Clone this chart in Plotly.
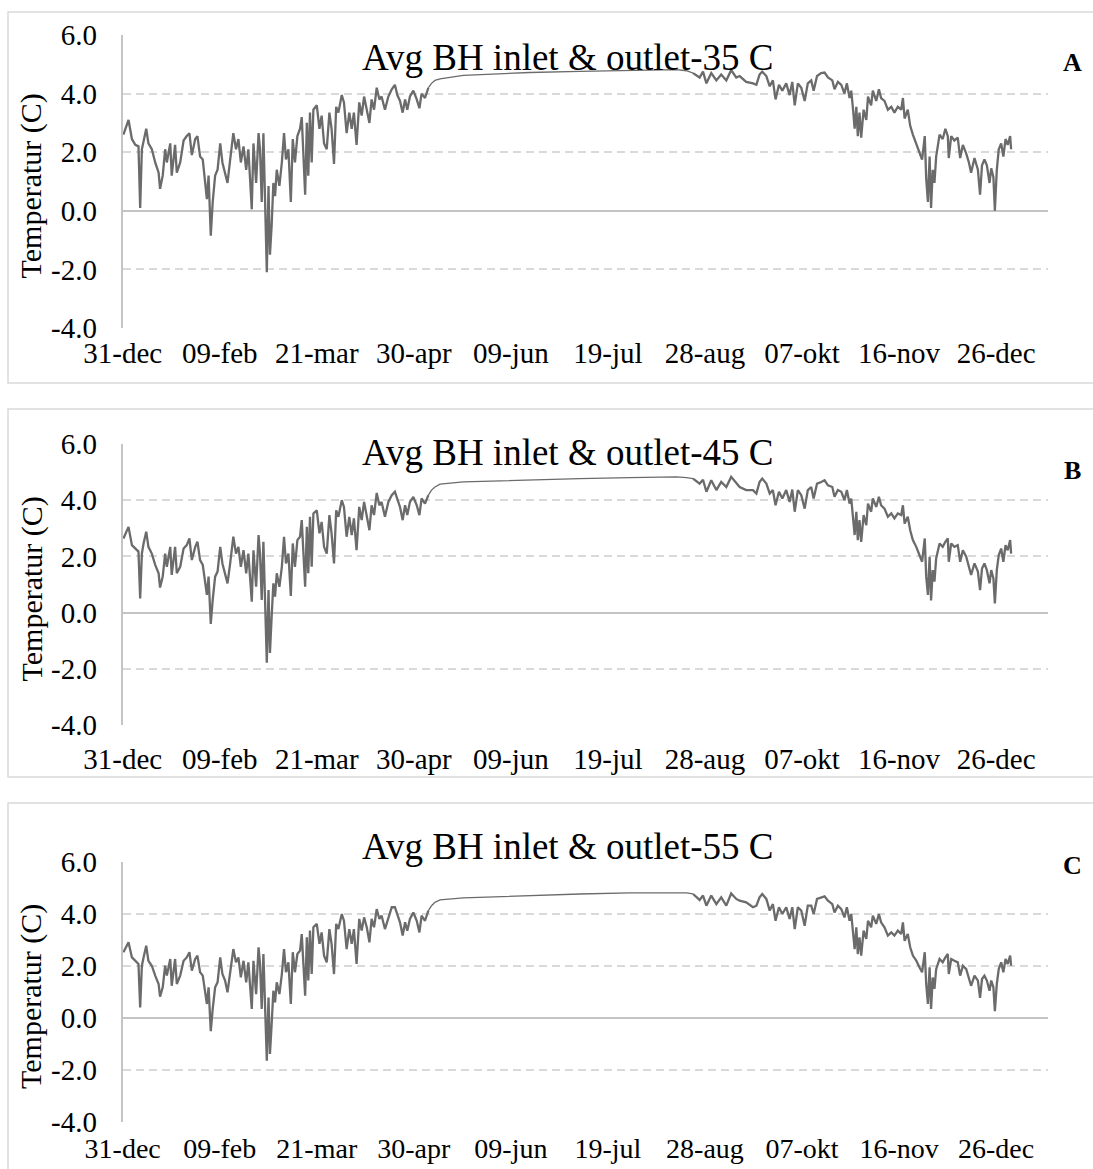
import plotly.graph_objects as go

# ---------------- data ----------------
# day offset from 31-dec
days = [
    0.3, 2.4, 3.8, 5.2, 6.5, 7.2, 7.9, 8.6, 9.7, 10.6,
    12.0, 13.4, 14.8, 15.4, 16.5, 17.5, 18.2, 19.6, 20.2, 21.6,
    22.3, 23.7, 25.1, 26.4, 27.5, 28.5, 29.9, 30.8, 31.9, 33.0,
    34.0, 34.7, 35.4, 36.3, 37.1, 38.1, 39.1, 40.2, 41.1, 42.2,
    43.2, 44.3, 45.6, 46.7, 47.7, 48.7, 49.8, 50.9, 51.8, 53.2,
    53.9, 55.0, 56.0, 56.6, 57.3, 58.0, 58.7, 59.4, 60.1, 60.7,
    61.4, 62.1, 62.8, 63.5, 64.6, 65.6, 66.5, 67.3, 68.3, 69.3,
    70.1, 71.0, 72.0, 73.1, 73.8, 74.5, 75.2, 75.9, 76.5, 77.2,
    77.9, 78.6, 80.0, 81.1, 82.0, 83.0, 84.1, 85.2, 86.1, 87.1,
    88.0, 88.9, 90.3, 91.2, 92.3, 93.4, 94.4, 95.3, 96.4, 97.5,
    98.5, 99.5, 100.6, 101.7, 102.6, 103.6, 104.7, 105.8, 106.7, 108.1,
    109.5, 110.9, 112.2, 113.2, 114.3, 115.4, 116.4, 117.3, 118.4, 119.8,
    121.2, 122.3, 123.2, 124.6, 126.0, 127.3, 128.7, 130.8,
    140.4, 155.0, 167.8, 188.4, 209.0, 228.2, 232.4,
    235.1, 237.8, 239.2, 240.6, 242.6, 244.7, 246.7, 248.8, 250.8, 252.9,
    254.3, 257.0, 259.8, 261.2, 262.5, 263.6, 265.3, 266.7, 268.0, 269.1,
    270.5, 271.9, 273.5, 274.9, 276.0, 277.0, 278.3, 279.7, 281.1, 282.4,
    283.8, 284.8, 286.2, 287.9, 289.3, 290.7, 292.5, 293.4, 294.8, 296.2,
    297.5, 298.5, 299.6, 300.3, 301.0, 301.7, 302.4, 303.0, 303.7, 304.4,
    305.4, 306.5, 307.2, 308.5, 309.2, 310.6, 311.7, 312.6, 314.0, 315.4,
    316.8, 318.1, 319.5, 320.9, 321.6, 322.3, 323.6, 324.6, 325.7, 327.1,
    328.4, 329.5, 330.6, 331.2, 331.9, 332.6, 333.2, 333.9, 334.6, 335.3,
    336.7, 338.0, 339.1, 340.1, 340.5, 341.5, 342.8, 344.2, 345.2, 346.3,
    347.7, 348.8, 349.7, 351.1, 352.5, 353.4, 354.2, 355.2, 356.2, 357.3,
    358.0, 358.9, 359.5, 360.3, 361.1, 362.1, 363.0, 363.9, 364.8, 365.8,
    366.2,
]

temp_35 = [
    2.6, 3.1, 2.45, 2.25, 2.2, 0.1, 2.1, 2.4, 2.8, 2.3,
    2.1, 1.65, 1.3, 0.75, 1.2, 2.1, 1.65, 2.3, 1.2, 2.25,
    1.3, 1.65, 2.4, 2.55, 2.65, 1.9, 2.45, 2.55, 1.85, 1.75,
    0.95, 0.4, 1.2, -0.85, 0.3, 1.2, 1.4, 2.3, 1.65, 1.3,
    0.95, 1.75, 2.65, 2.1, 2.45, 1.65, 2.2, 1.4, 2.1, 0.05,
    2.3, 0.95, 2.65, 2.1, 0.3, 2.65, 0.5, -2.1, 0.85, -1.5,
    -0.5, 0.95, 0.5, 1.4, 0.85, 1.65, 2.65, 1.75, 2.1, 0.3,
    2.45, 1.65, 2.55, 2.8, 3.2, 1.85, 0.55, 3.0, 1.2, 3.35,
    1.65, 3.45, 3.6, 2.8, 3.25, 2.3, 2.1, 3.35, 2.8, 1.6,
    3.55, 3.35, 3.95, 3.7, 2.65, 3.35, 2.8, 3.35, 2.25, 3.7,
    3.25, 3.9, 3.45, 3.0, 3.8, 3.45, 4.2, 3.8, 3.9, 3.45,
    3.9, 4.15, 4.3, 3.95, 3.75, 3.35, 3.8, 3.45, 3.9, 4.1,
    3.8, 3.5, 4.0, 3.85, 4.2, 4.35, 4.45, 4.5,
    4.62, 4.68, 4.72, 4.76, 4.8, 4.82, 4.78,
    4.7, 4.55, 4.75, 4.35, 4.7, 4.45, 4.65, 4.45, 4.8, 4.55,
    4.6, 4.4, 4.35, 4.3, 4.65, 4.75, 4.6, 4.25, 4.45, 3.8,
    4.3, 4.1, 4.35, 3.95, 4.4, 3.6, 4.35, 4.2, 3.75, 4.35,
    4.45, 4.1, 4.6, 4.7, 4.72, 4.55, 4.45, 4.15, 4.4, 4.3,
    4.0, 4.35, 3.85, 4.1, 3.5, 2.8, 3.55, 2.55, 3.35, 2.5,
    3.45, 3.1, 3.9, 3.6, 4.1, 3.75, 4.15, 3.85, 3.75, 3.45,
    3.55, 3.35, 3.55, 3.45, 3.85, 3.15, 3.45, 2.9, 2.6, 2.3,
    1.95, 1.75, 2.55, 1.1, 0.3, 1.85, 0.1, 1.4, 0.95, 1.85,
    2.6, 2.45, 2.8, 2.55, 1.8, 2.55, 2.4, 2.5, 1.8, 2.25,
    1.95, 1.65, 1.3, 1.8, 1.4, 0.55, 1.55, 1.75, 1.55, 0.95,
    1.45, 1.15, 0.0, 1.4, 2.1, 2.3, 1.85, 2.45, 2.25, 2.55,
    2.1,
]

temp_45 = [
    2.64, 3.05, 2.4, 2.28, 2.17, 0.5, 2.1, 2.46, 2.88, 2.34,
    2.1, 1.7, 1.4, 0.89, 1.28, 2.1, 1.63, 2.34, 1.34, 2.34,
    1.4, 1.63, 2.28, 2.4, 2.64, 1.87, 2.34, 2.52, 1.87, 1.7,
    1.04, 0.63, 1.28, -0.4, 0.45, 1.28, 1.46, 2.34, 1.75, 1.4,
    1.04, 1.75, 2.7, 2.1, 2.34, 1.63, 2.22, 1.4, 2.1, 0.39,
    2.22, 0.92, 2.76, 2.1, 0.45, 2.52, 0.57, -1.78, 0.8, -1.44,
    -0.14, 1.04, 0.57, 1.4, 0.92, 1.63, 2.7, 1.75, 2.1, 0.59,
    2.46, 1.63, 2.58, 2.7, 3.29, 1.87, 0.92, 3.05, 1.4, 3.41,
    1.63, 3.53, 3.64, 2.82, 3.23, 2.34, 2.1, 3.47, 2.82, 1.75,
    3.64, 3.41, 4.0, 3.76, 2.7, 3.41, 2.76, 3.35, 2.22, 3.76,
    3.29, 3.94, 3.47, 2.93, 3.82, 3.47, 4.26, 3.82, 3.94, 3.41,
    3.94, 4.18, 4.3, 4.0, 3.76, 3.29, 3.82, 3.47, 3.94, 4.12,
    3.82, 3.47, 4.06, 3.88, 4.18, 4.36, 4.47, 4.57,
    4.65, 4.69, 4.73, 4.77, 4.8, 4.83, 4.8,
    4.77, 4.59, 4.73, 4.3, 4.71, 4.36, 4.65, 4.47, 4.83, 4.59,
    4.47, 4.36, 4.36, 4.24, 4.65, 4.77, 4.59, 4.24, 4.36, 3.82,
    4.3, 4.06, 4.36, 3.94, 4.38, 3.59, 4.36, 4.18, 3.7, 4.36,
    4.47, 4.06, 4.59, 4.65, 4.71, 4.53, 4.47, 4.12, 4.36, 4.3,
    4.0, 4.36, 3.88, 4.06, 3.53, 2.76, 3.59, 2.58, 3.29, 2.52,
    3.47, 3.11, 3.88, 3.59, 4.06, 3.76, 4.12, 3.82, 3.7, 3.41,
    3.53, 3.35, 3.53, 3.47, 3.82, 3.17, 3.41, 2.93, 2.58, 2.34,
    2.05, 1.81, 2.64, 1.28, 0.63, 1.99, 0.43, 1.51, 1.1, 1.93,
    2.46, 2.34, 2.52, 2.64, 1.81, 2.46, 2.34, 2.4, 1.81, 2.22,
    1.99, 1.63, 1.34, 1.75, 1.46, 0.8, 1.57, 1.75, 1.51, 1.04,
    1.51, 1.22, 0.33, 1.51, 2.05, 2.28, 1.81, 2.4, 2.22, 2.58,
    2.1,
]

temp_55 = [
    2.53, 2.91, 2.33, 2.2, 2.08, 0.41, 2.01, 2.33, 2.78, 2.2,
    2.01, 1.63, 1.31, 0.82, 1.18, 2.01, 1.63, 2.27, 1.24, 2.27,
    1.31, 1.63, 2.2, 2.33, 2.53, 1.82, 2.27, 2.4, 1.76, 1.63,
    0.92, 0.54, 1.18, -0.51, 0.35, 1.18, 1.37, 2.33, 1.69, 1.44,
    0.99, 1.76, 2.65, 2.14, 2.33, 1.56, 2.2, 1.37, 2.14, 0.35,
    2.2, 0.92, 2.72, 2.08, 0.35, 2.46, 0.54, -1.64, 0.79, -1.38,
    -0.23, 1.05, 0.6, 1.37, 0.92, 1.69, 2.65, 1.76, 2.14, 0.54,
    2.53, 1.76, 2.46, 2.59, 3.23, 1.88, 0.86, 3.1, 1.44, 3.36,
    1.69, 3.49, 3.62, 2.85, 3.29, 2.4, 2.14, 3.42, 2.85, 1.69,
    3.62, 3.42, 4.0, 3.74, 2.65, 3.42, 2.85, 3.42, 2.08, 3.81,
    3.36, 3.87, 3.49, 2.91, 3.81, 3.49, 4.19, 3.81, 3.94, 3.42,
    3.87, 4.26, 4.26, 3.94, 3.68, 3.17, 3.68, 3.36, 3.81, 4.06,
    3.74, 3.29, 3.94, 3.74, 4.13, 4.32, 4.45, 4.54,
    4.62, 4.67, 4.71, 4.77, 4.81, 4.83, 4.81,
    4.77, 4.54, 4.71, 4.32, 4.71, 4.38, 4.64, 4.32, 4.79, 4.58,
    4.51, 4.45, 4.26, 4.32, 4.64, 4.77, 4.58, 4.13, 4.38, 3.74,
    4.26, 4.0, 4.26, 3.81, 4.26, 3.42, 4.26, 4.13, 3.55, 4.32,
    4.32, 4.0, 4.58, 4.64, 4.68, 4.51, 4.38, 4.06, 4.32, 4.19,
    3.87, 4.26, 3.74, 4.0, 3.36, 2.65, 3.49, 2.46, 3.1, 2.4,
    3.36, 3.04, 3.74, 3.49, 3.94, 3.62, 4.0, 3.68, 3.49, 3.17,
    3.29, 3.17, 3.36, 3.23, 3.68, 2.97, 3.23, 2.72, 2.4, 2.21,
    1.95, 1.76, 2.53, 1.31, 0.54, 1.95, 0.35, 1.56, 1.12, 1.88,
    2.27, 2.14, 2.33, 2.46, 1.69, 2.27, 2.2, 2.14, 1.63, 2.01,
    1.88, 1.5, 1.24, 1.63, 1.44, 0.77, 1.5, 1.63, 1.44, 1.05,
    1.44, 1.18, 0.26, 1.31, 1.88, 2.14, 1.76, 2.27, 2.08, 2.4,
    2.01,
]

tick_days = [0, 40, 80, 120, 160, 200, 240, 280, 320, 360]
tick_labels = ["31-dec", "09-feb", "21-mar", "30-apr", "09-jun",
               "19-jul", "28-aug", "07-okt", "16-nov", "26-dec"]
y_ticks = [-4, -2, 0, 2, 4, 6]
y_tick_labels = ["-4.0", "-2.0", "0.0", "2.0", "4.0", "6.0"]
titles = ["Avg BH inlet & outlet-35 C", "Avg BH inlet & outlet-45 C",
          "Avg BH inlet & outlet-55 C"]
panel_letters = ["A", "B", "C"]
series = [temp_35, temp_45, temp_55]

assert all(len(s) == len(days) for s in series)

# summer stretch (smooth, thin line) vs. noisy stretches (dense, thicker)
FLAT_START, FLAT_END = 124, 136

# ---------------- layout ----------------
W, H = 1093, 1169
FONT = "Liberation Serif, Times New Roman, serif"
LINE_COLOR = "#6b6b6b"


def py(px):
    return 1 - px / H


plot_y = [(35, 328), (444, 725), (862, 1122)]     # top (6.0), bottom (-4.0)
boxes = [(12, 383), (409, 777), (803, 1200)]
title_y = [57, 452, 846]
letter_y = [63, 470, 865]
xlabel_standoff = [5, 14, 7]
xlabel_size = [29, 29, 28]
x_dom = [122.7 / W, 1048 / W]

fig = go.Figure()
layout = dict(
    width=W, height=H, autosize=False,
    margin=dict(l=0, r=0, t=0, b=0, pad=0),
    paper_bgcolor="white", plot_bgcolor="white", showlegend=False,
    font=dict(family=FONT, color="black"),
)
annotations = []
shapes = []

for i in range(3):
    n = "" if i == 0 else str(i + 1)
    vals = series[i]
    segments = [
        (slice(0, FLAT_START + 1), 2.3),
        (slice(FLAT_START, FLAT_END), 1.3),
        (slice(FLAT_END - 1, None), 2.3),
    ]
    for sl, w in segments:
        fig.add_trace(go.Scatter(
            x=days[sl], y=vals[sl], mode="lines",
            line=dict(color=LINE_COLOR, width=w),
            xaxis="x" + n, yaxis="y" + n, hoverinfo="skip",
        ))
    top, bot = plot_y[i]
    layout["xaxis" + n] = dict(
        domain=x_dom, range=[0, 381.4], anchor="y" + n, automargin=False,
        tickmode="array", tickvals=tick_days, ticktext=tick_labels,
        showgrid=False, zeroline=False, showline=False, ticks="",
        tickfont=dict(family=FONT, size=xlabel_size[i], color="black"),
        ticklabelstandoff=xlabel_standoff[i], fixedrange=True,
    )
    layout["yaxis" + n] = dict(
        domain=[py(bot), py(top)], range=[-4, 6], anchor="x" + n,
        automargin=False,
        tickmode="array", tickvals=y_ticks, ticktext=y_tick_labels,
        showgrid=True, gridcolor="#d9d9d9", gridwidth=1.5, griddash="8px,5px",
        zeroline=True, zerolinecolor="#c4c4c4", zerolinewidth=2,
        showline=True, linecolor="#c4c4c4", linewidth=2, ticks="",
        tickfont=dict(family=FONT, size=29, color="black"),
        ticklabelstandoff=18, fixedrange=True,
    )
    b0, b1 = boxes[i]
    shapes.append(dict(type="rect", xref="paper", yref="paper",
                       x0=8 / W, x1=1.02, y0=py(b1), y1=py(b0),
                       line=dict(color="#d9d9d9", width=1.5), layer="below"))
    annotations.append(dict(text=titles[i], xref="paper", yref="paper",
                            x=567 / W, y=py(title_y[i]), xanchor="center",
                            yanchor="middle", showarrow=False,
                            font=dict(family=FONT, size=37, color="black")))
    annotations.append(dict(text="<b>" + panel_letters[i] + "</b>",
                            xref="paper", yref="paper",
                            x=1072 / W, y=py(letter_y[i]), xanchor="center",
                            yanchor="middle", showarrow=False,
                            font=dict(family=FONT, size=26, color="black")))
    annotations.append(dict(text="Temperatur (C)", xref="paper", yref="paper",
                            x=31 / W, y=py((top + bot) / 2 + 5),
                            xanchor="center", yanchor="middle", textangle=-90,
                            showarrow=False,
                            font=dict(family=FONT, size=30, color="black")))

layout["annotations"] = annotations
layout["shapes"] = shapes
fig.update_layout(**layout)
fig.write_html(
    "out.html",
    config={"displayModeBar": False, "responsive": False},
    post_script=("document.body.style.margin='0';"
                 "document.body.style.padding='0';"
                 "document.documentElement.style.overflow='hidden';"),
)
